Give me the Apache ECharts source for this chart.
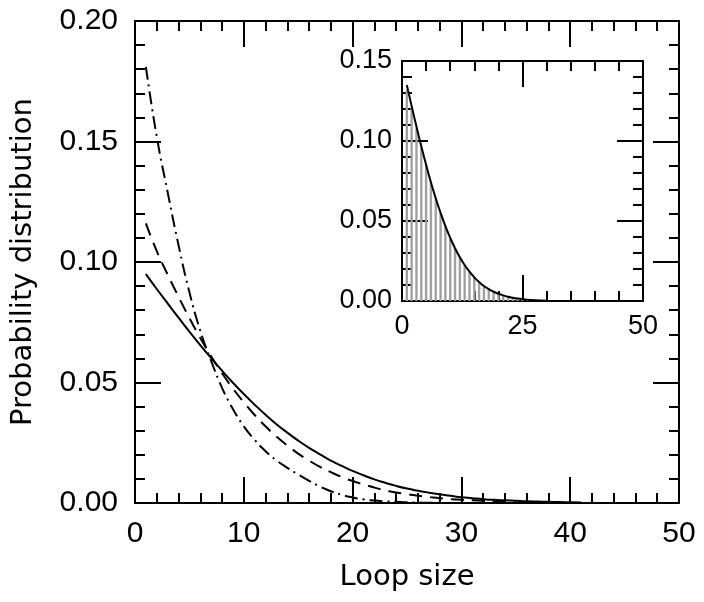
<!DOCTYPE html>
<html>
<head>
<meta charset="utf-8">
<script src="https://cdn.jsdelivr.net/npm/echarts@6/dist/echarts.min.js"></script>
<style>
  html, body { margin: 0; padding: 0; background: #fff; }
  #chart { width: 704px; height: 602px; }
</style>
</head>
<body>
<div id="chart"></div>
<script>
// ---- Main plot data ----
const xSolid = [1,2,3,4,5,6,7,8,9,10,11,12,13,14,15,16,17,18,19,20,21,22,23,24,25,26,27,28,29,30,31,32,33,34,35,36,37,38,39,40,41];
const solidValues = [0.0950,0.0888,0.0828,0.0769,0.0711,0.0655,0.0601,0.0549,0.0499,0.0452,0.0408,0.0366,0.0327,0.0292,0.0259,0.0229,0.0202,0.0176,0.0154,0.0133,0.0115,0.0098,0.0084,0.0071,0.0060,0.0051,0.0043,0.0036,0.0030,0.0024,0.0020,0.0016,0.0013,0.0011,0.0009,0.0007,0.0006,0.0005,0.0004,0.0003,0.0002];

const xDashed = [1,2,3,4,5,6,7,8,9,10,11,12,13,14,15,16,17,18,19,20,21,22,23,24,25,26,27,28,29,30,31,32,33,34,35];
const dashedValues = [0.1160,0.1045,0.0948,0.0856,0.0767,0.0685,0.0609,0.0539,0.0475,0.0418,0.0365,0.0318,0.0276,0.0239,0.0205,0.0176,0.0150,0.0128,0.0108,0.0091,0.0077,0.0064,0.0053,0.0044,0.0037,0.0030,0.0025,0.0020,0.0016,0.0013,0.0011,0.0009,0.0007,0.0005,0.0004];

const xDashDot = [1,2,3,4,5,6,7,8,9,10,11,12,13,14,15,16,17,18,19,20,21,22,23,24,25,26,27,28];
const dashDotValues = [0.181,0.152,0.129,0.107,0.0875,0.0715,0.0590,0.0478,0.0390,0.0318,0.0262,0.0215,0.0177,0.0146,0.0118,0.0092,0.0068,0.0049,0.0034,0.0023,0.0015,0.0010,0.0007,0.0005,0.0003,0.0002,0.0001,0.0001];

// ---- Inset data ----
const insetHistX = [1,2,3,4,5,6,7,8,9,10,11,12,13,14,15,16,17,18,19,20,21,22,23,24,25,26,27];
const insetHistValues = [0.132,0.121,0.108,0.096,0.085,0.074,0.064,0.055,0.047,0.039,0.033,0.027,0.022,0.018,0.015,0.012,0.009,0.007,0.006,0.0045,0.0035,0.0026,0.0020,0.0015,0.0010,0.0008,0.0006];
const insetCurveX = [1,2,3,4,5,6,7,8,9,10,11,12,13,14,15,16,17,18,19,20,21,22,23,24,25,26,27,28,29,30];
const insetCurveValues = [0.1350,0.1218,0.1090,0.0967,0.0851,0.0742,0.0642,0.0551,0.0468,0.0395,0.0330,0.0273,0.0225,0.0183,0.0148,0.0119,0.0094,0.0074,0.0058,0.0045,0.0035,0.0026,0.0020,0.0015,0.0011,0.0008,0.0006,0.0004,0.0003,0.0002];

// ---- Axis settings ----
const mainX = { min: 0, max: 50, interval: 10 };
const mainY = { min: 0, max: 0.20, interval: 0.05 };
const insetXRange = { min: 0, max: 50, interval: 25 };
const insetYRange = { min: 0, max: 0.15, interval: 0.05 };
const xTitle = 'Loop size';
const yTitle = 'Probability distribution';

const pairs = (xs, ys) => xs.map((x, i) => [x, ys[i]]);
const FONT = 'Liberation Sans';
const TITLE_FONT = 'DejaVu Sans';
const lineBlack = { color: '#000', width: 2 };

function axisCommon(range, opts) {
  return Object.assign({
    type: 'value',
    min: range.min, max: range.max, interval: range.interval,
    axisLine: { show: true, onZero: false, lineStyle: lineBlack },
    axisTick: { show: true, inside: true, length: 26, lineStyle: lineBlack },
    minorTick: { show: true, splitNumber: 5, length: 10, lineStyle: lineBlack },
    splitLine: { show: false },
    minorSplitLine: { show: false }
  }, opts);
}

const chart = echarts.init(document.getElementById('chart'), null, { renderer: 'canvas' });

chart.setOption({
  animation: false,
  backgroundColor: '#fff',
  grid: [
    { left: 135, top: 21, width: 544, height: 482, show: false },
    { left: 402, top: 61, width: 241, height: 240, show: true, backgroundColor: '#fff', borderWidth: 0 }
  ],
  xAxis: [
    axisCommon(mainX, {
      gridIndex: 0, position: 'bottom',
      axisLabel: { show: true, fontSize: 30, fontFamily: FONT, color: '#000', margin: 16 },
      name: xTitle, nameLocation: 'middle', nameGap: 60,
      nameTextStyle: { fontSize: 29, fontFamily: TITLE_FONT, color: '#000' }
    }),
    axisCommon(mainX, { gridIndex: 0, position: 'top', axisLabel: { show: false } }),
    axisCommon(insetXRange, {
      gridIndex: 1, position: 'bottom',
      axisLabel: { show: true, fontSize: 27, fontFamily: FONT, color: '#000', margin: 12 }
    }),
    axisCommon(insetXRange, { gridIndex: 1, position: 'top', axisLabel: { show: false } })
  ],
  yAxis: [
    axisCommon(mainY, {
      gridIndex: 0, position: 'left',
      axisLabel: { show: true, fontSize: 30, fontFamily: FONT, color: '#000', margin: 17,
                   formatter: v => v.toFixed(2) },
      name: yTitle, nameLocation: 'middle', nameGap: 97,
      nameTextStyle: { fontSize: 29, fontFamily: TITLE_FONT, color: '#000' }
    }),
    axisCommon(mainY, { gridIndex: 0, position: 'right', axisLabel: { show: false } }),
    axisCommon(insetYRange, {
      gridIndex: 1, position: 'left',
      axisLabel: { show: true, fontSize: 27, fontFamily: FONT, color: '#000', margin: 10,
                   formatter: v => v.toFixed(2) }
    }),
    axisCommon(insetYRange, { gridIndex: 1, position: 'right', axisLabel: { show: false } })
  ],
  series: [
    {
      type: 'line', xAxisIndex: 0, yAxisIndex: 0, data: pairs(xSolid, solidValues),
      showSymbol: false, smooth: true, lineStyle: { color: '#000', width: 2, type: 'solid' }
    },
    {
      type: 'line', xAxisIndex: 0, yAxisIndex: 0, data: pairs(xDashed, dashedValues),
      showSymbol: false, smooth: true, lineStyle: { color: '#000', width: 2, type: [13, 8] }
    },
    {
      type: 'line', xAxisIndex: 0, yAxisIndex: 0, data: pairs(xDashDot, dashDotValues),
      showSymbol: false, smooth: true, lineStyle: { color: '#000', width: 2, type: [13, 5, 2, 5] }
    },
    {
      type: 'bar', xAxisIndex: 2, yAxisIndex: 2, data: pairs(insetHistX, insetHistValues),
      barWidth: 2.4, itemStyle: { color: '#a0a0a0' }, z: 1
    },
    {
      type: 'line', xAxisIndex: 2, yAxisIndex: 2, data: pairs(insetCurveX, insetCurveValues),
      showSymbol: false, smooth: true, lineStyle: { color: '#000', width: 2 }, z: 3
    }
  ]
});
</script>
</body>
</html>
